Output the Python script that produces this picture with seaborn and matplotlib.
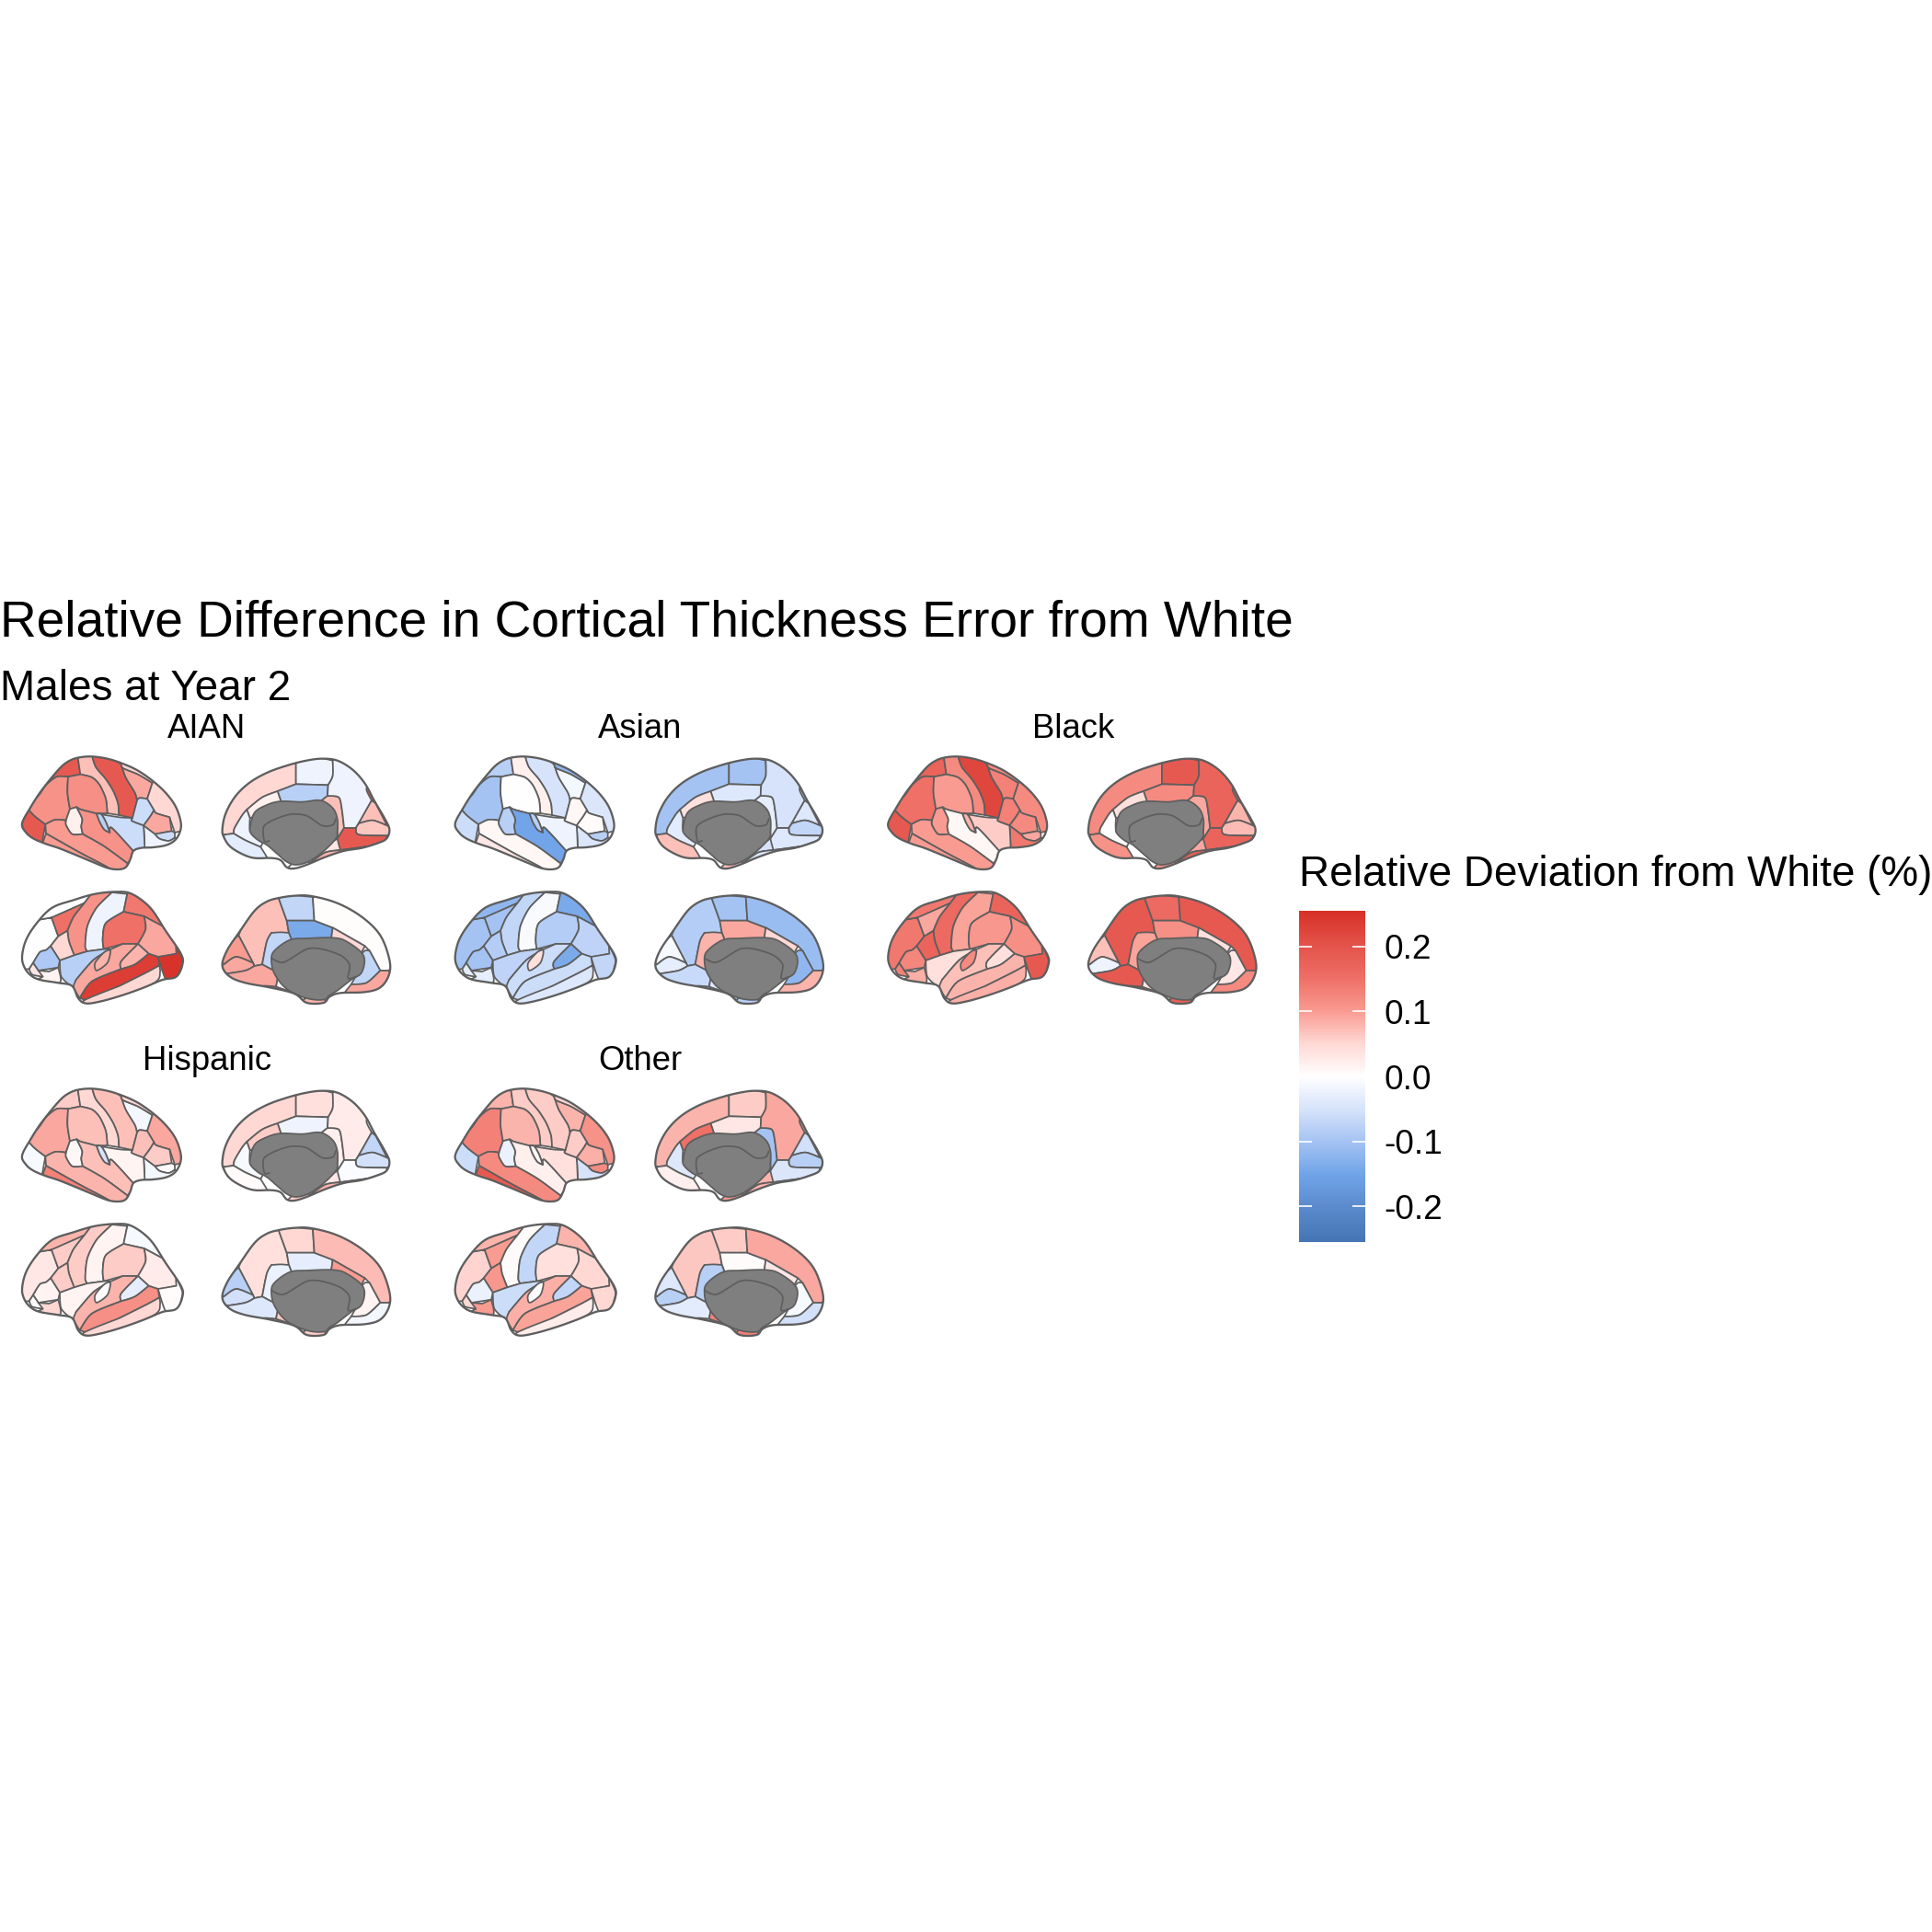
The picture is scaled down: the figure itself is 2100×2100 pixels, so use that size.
import numpy as np
import seaborn as sns
import matplotlib.pyplot as plt
from collections import defaultdict
from matplotlib.collections import PolyCollection
from matplotlib.colors import Normalize
from matplotlib.patches import Polygon

groups = ['AIAN', 'Asian', 'Black', 'Hispanic', 'Other']
tick_values = [0.2, 0.1, 0.0, -0.1, -0.2]
limit = 0.255

# atlas outlines
lat_top_outline = [(72,315),(100,262),(130,215),(165,170),(200,130),(228,110),(258,100),(300,97),(350,104),(400,120),(450,143),(500,178),(540,215),(570,255),(586,295),(590,330),(575,365),(545,385),(500,393),(460,395),(435,405),(425,432),(410,458),(385,465),(350,460),(300,440),(240,415),(190,395),(150,382),(110,365),(85,345)]
lat_top = {
    'lateraloccipital': [(72,315),(100,262),(112,290),(148,318),(150,382),(110,365),(85,345)],
    'superiorparietal': [(100,262),(130,215),(165,170),(200,130),(258,100),(262,155),(222,163),(185,163),(150,190),(125,225)],
    'inferiorparietal': [(100,262),(125,225),(150,190),(185,163),(222,163),(220,215),(228,268),(215,305),(180,303),(148,318),(112,290)],
    'postcentral': [(258,100),(300,97),(312,130),(345,170),(370,210),(385,250),(388,288),(350,282),(345,235),(325,190),(300,165),(262,155)],
    'supramarginal': [(222,163),(262,155),(300,165),(325,190),(345,235),(350,282),(315,283),(265,270),(250,262),(228,268),(220,215)],
    'precentral': [(300,97),(350,104),(395,122),(410,165),(440,215),(447,240),(432,297),(388,288),(385,250),(370,210),(345,170),(312,130)],
    'caudalmiddlefrontal': [(395,122),(402,135),(450,155),(497,183),(480,235),(455,232),(447,240),(440,215),(410,165)],
    'superiorfrontal': [(385,112),(450,143),(500,178),(497,183),(450,155),(402,135),(395,122)],
    'rostralmiddlefrontal': [(497,183),(500,178),(540,215),(570,255),(586,295),(590,330),(570,345),(553,295),(510,282),(502,272),(480,235)],
    'parsopercularis': [(447,240),(455,232),(480,235),(502,272),(490,292),(468,322),(430,307),(432,297)],
    'parstriangularis': [(502,272),(510,282),(553,295),(560,340),(505,350),(468,322),(490,292)],
    'parsorbitalis': [(505,350),(560,340),(570,345),(570,362),(550,372),(520,365)],
    'lateralorbitofrontal': [(468,322),(505,350),(520,365),(550,372),(570,362),(575,365),(545,385),(500,393),(460,395),(470,350)],
    'temporalpole': [(315,283),(390,295),(432,297),(430,307),(468,322),(470,350),(460,395),(435,405),(365,330),(358,345),(345,310),(330,285)],
    'bankssts': [(228,268),(250,262),(268,300),(265,325),(270,350),(235,350),(215,320),(215,305)],
    'superiortemporal': [(250,262),(265,270),(315,283),(325,310),(340,335),(358,345),(365,330),(435,405),(415,445),(340,390),(270,350),(265,325),(268,300)],
    'insula': [(315,283),(330,285),(345,310),(358,345),(340,335),(325,310)],
    'middletemporal': [(148,318),(180,303),(215,305),(215,320),(235,350),(270,350),(340,390),(415,445),(410,458),(385,465),(340,452),(260,410),(150,348)],
    'inferiortemporal': [(150,348),(260,410),(340,452),(385,465),(350,460),(300,440),(240,415),(190,395),(150,382)],
}
med_top_outline = [(725,335),(735,285),(765,230),(810,185),(870,150),(940,125),(1000,110),(1050,104),(1100,110),(1150,140),(1190,185),(1220,240),(1255,300),(1270,335),(1260,365),(1230,380),(1180,395),(1120,405),(1060,425),(1000,450),(960,462),(935,458),(915,435),(885,428),(830,428),(790,415),(750,390),(730,360)]
med_top = {
    'superiorfrontal': [(725,335),(735,285),(765,230),(810,185),(870,150),(965,118),(965,187),(905,210),(855,230),(805,270),(790,288),(765,330),(762,348),(730,352)],
    'paracentral': [(965,118),(1000,110),(1085,110),(1085,160),(1070,190),(965,187)],
    'posteriorcingulate': [(905,210),(965,187),(1070,190),(1068,225),(1045,240),(985,245),(915,243)],
    'isthmuscingulate': [(1045,240),(1068,225),(1105,230),(1115,270),(1122,330),(1100,365),(1100,330),(1095,290),(1060,255)],
    'caudalanteriorcingulate': [(805,270),(855,230),(905,210),(915,243),(870,255),(830,280),(815,298)],
    'rostralanteriorcingulate': [(762,348),(765,330),(790,288),(805,270),(815,298),(815,335),(820,350),(845,372),(850,392),(800,370)],
    'medialorbitofrontal': [(730,352),(762,348),(800,370),(850,392),(885,428),(830,428),(790,415),(750,390)],
    'precuneus': [(1085,110),(1100,110),(1150,140),(1190,185),(1212,240),(1178,300),(1160,330),(1122,330),(1115,270),(1105,230),(1068,225),(1070,190),(1085,160)],
    'superiorparietal': [(1190,185),(1225,250),(1212,240),(1195,205)],
    'cuneus': [(1178,300),(1212,240),(1225,250),(1262,322),(1215,305),(1170,315)],
    'pericalcarine': [(1160,330),(1170,315),(1215,305),(1262,322),(1270,335),(1262,355),(1170,352)],
    'lingual': [(1122,330),(1160,330),(1170,352),(1262,355),(1255,370),(1200,390),(1110,402),(1095,385),(1100,365)],
    'parahippocampal': [(1100,365),(1105,385),(1110,402),(1060,410),(1010,445),(1005,440),(1050,410)],
    'fusiform': [(1010,445),(1060,410),(1110,402),(1200,390),(1120,405),(1060,425),(1000,450)],
    'entorhinal': [(935,458),(965,450),(1005,440),(1010,445),(1000,450),(960,462)],
}
med_top_wall = [(815,330),(830,280),(870,255),(915,243),(985,245),(1045,240),(1085,265),(1100,300),(1100,340),(1095,365),(1050,410),(1005,440),(965,450),(935,440),(905,415),(870,385),(845,372),(820,350)]
med_top_line = [(878,372),(862,372),(860,325),(900,300),(950,285),(1000,290),(1050,322),(1085,320),(1095,300)]

lat_bot_outline = [(72,750),(85,695),(120,640),(170,590),(240,565),(310,545),(380,538),(430,545),(490,590),(540,665),(590,740),(595,775),(575,815),(530,825),(470,850),(400,875),(330,895),(280,902),(255,885),(235,845),(190,835),(130,825),(100,810),(80,785)]
lat_bot = {
    'rostralmiddlefrontal': [(72,750),(85,695),(120,640),(168,622),(190,683),(165,715),(150,728),(130,735),(108,770),(95,790),(80,785)],
    'superiorfrontal': [(120,640),(170,590),(240,565),(310,545),(275,575),(170,622),(168,622)],
    'caudalmiddlefrontal': [(168,622),(275,575),(240,620),(220,665),(190,683)],
    'precentral': [(275,575),(310,545),(365,540),(315,590),(285,650),(278,715),(285,732),(242,745),(225,700),(220,665),(240,620)],
    'postcentral': [(365,540),(415,545),(403,603),(345,640),(335,690),(338,725),(285,732),(278,715),(285,650),(315,590)],
    'superiorparietal': [(415,545),(430,545),(490,590),(530,650),(470,618),(403,603)],
    'supramarginal': [(345,640),(403,603),(470,618),(475,660),(450,708),(400,708),(338,725),(335,690)],
    'inferiorparietal': [(470,618),(530,650),(580,720),(575,740),(520,750),(485,740),(450,708),(475,660)],
    'lateraloccipital': [(575,715),(595,760),(590,790),(575,815),(530,825),(515,750),(575,740)],
    'parsopercularis': [(165,715),(190,683),(220,665),(225,700),(242,745),(195,762)],
    'parstriangularis': [(108,770),(130,735),(150,728),(165,715),(195,762),(190,785),(125,795)],
    'parsorbitalis': [(95,790),(108,770),(125,795),(160,798),(140,815),(105,808)],
    'lateralorbitofrontal': [(125,795),(160,798),(190,785),(195,835),(130,825),(140,815)],
    'temporalpole': [(195,762),(242,745),(285,732),(338,725),(362,725),(305,760),(248,825),(238,848),(200,815)],
    'superiortemporal': [(362,725),(400,708),(450,708),(395,765),(395,790),(300,830),(260,885),(240,850),(248,825),(305,760)],
    'insula': [(310,770),(340,735),(360,730),(350,770),(315,795)],
    'bankssts': [(395,765),(450,708),(485,740),(440,775),(395,790)],
    'middletemporal': [(260,885),(300,830),(395,790),(440,775),(485,740),(515,750),(520,778),(480,800),(390,845),(300,890)],
    'inferiortemporal': [(270,895),(390,845),(480,800),(520,778),(522,800),(510,830),(400,875),(330,895)],
}
med_bot_outline = [(725,780),(740,730),(780,670),(830,600),(870,570),(910,558),(960,551),(1015,552),(1100,575),(1180,620),(1240,680),(1270,760),(1268,810),(1240,850),(1190,865),(1110,868),(1075,880),(1055,900),(1000,900),(960,870),(880,850),(800,835),(750,815)]
med_bot = {
    'precuneus': [(778,680),(830,600),(870,570),(910,558),(935,632),(942,672),(885,672),(870,700),(855,775),(830,780),(825,770)],
    'paracentral': [(910,558),(1020,555),(1025,632),(935,632)],
    'posteriorcingulate': [(935,632),(1025,632),(1085,655),(1085,688),(1000,690),(945,695),(942,672)],
    'isthmuscingulate': [(885,672),(915,670),(942,672),(945,695),(895,730),(885,760),(895,805),(855,775),(870,700)],
    'superiorfrontal': [(1020,555),(1100,575),(1180,620),(1240,680),(1270,760),(1268,795),(1240,795),(1205,730),(1190,715),(1085,655),(1025,632)],
    'caudalanteriorcingulate': [(1085,655),(1190,715),(1185,745),(1130,700),(1085,688)],
    'rostralanteriorcingulate': [(1190,730),(1205,730),(1240,795),(1195,835),(1145,840),(1180,800),(1185,745)],
    'medialorbitofrontal': [(1240,795),(1268,795),(1268,810),(1240,850),(1190,865),(1110,868),(1145,840),(1195,835)],
    'cuneus': [(725,770),(740,730),(778,680),(825,770),(770,750),(730,775)],
    'pericalcarine': [(725,780),(730,775),(770,750),(825,770),(830,780),(800,795),(740,805)],
    'lingual': [(740,805),(800,795),(830,780),(855,775),(895,805),(900,848),(800,835),(750,815)],
    'parahippocampal': [(895,805),(935,855),(1000,885),(990,892),(955,868),(900,848)],
    'fusiform': [(860,845),(900,848),(955,868),(990,892),(960,870),(880,850)],
    'entorhinal': [(990,892),(1000,885),(1055,890),(1055,900),(1000,900)],
}
med_bot_wall = [(885,760),(895,730),(945,695),(1000,690),(1085,688),(1130,700),(1185,745),(1180,800),(1145,825),(1100,860),(1075,875),(1055,890),(1000,885),(935,855),(895,805)]
med_bot_line = [(885,755),(925,768),(1000,725),(1050,725),(1110,745),(1140,775),(1135,820),(1160,815)]

# values per view, same order as the regions above
aian_lat_top = [.19,.19,.11,.07,.115,.19,.09,.05,.05,-.06,.09,-.06,-.02,-.06,.02,.11,-.08,.10,.10]
aian_med_top = [.05,-.02,-.08,.07,.02,-.02,-.035,-.02,.19,.07,.065,.19,.03,.08,.005]
aian_lat_bot = [0,0,.15,.11,-.02,.14,.15,.09,.25,.05,-.09,.03,.015,-.08,.09,.08,.08,.235,.05]
aian_med_bot = [.07,-.07,-.14,-.07,.003,.05,-.07,.09,.10,.09,.09,0,.19,.08]

asian_lat_top = [-.06,-.08,-.10,.02,0,-.05,-.015,-.12,-.045,.01,.005,-.08,-.045,-.02,-.08,-.15,-.08,.01,.03]
asian_med_top = [-.10,-.10,-.04,-.03,.04,-.035,.07,-.05,-.10,-.04,-.07,-.04,-.05,-.04,.07]
asian_lat_bot = [-.10,-.12,-.10,-.07,-.008,-.14,-.085,-.075,-.07,-.085,-.10,-.035,-.03,-.075,-.06,.04,-.14,-.06,-.04]
asian_med_bot = [-.085,-.10,.09,.08,-.11,.05,-.12,.08,-.01,-.03,-.065,-.04,-.09,-.08]

black_lat_top = [.19,.17,.15,.12,.10,.22,.13,.12,.12,.13,.12,.09,.14,.06,.10,.01,.08,.10,.10]
black_med_top = [.12,.19,.12,.09,.04,0,.11,.17,.17,.08,.075,.17,.09,.18,.11]
black_lat_bot = [.14,.14,.09,.16,.095,.17,.105,.115,.19,.17,.125,.13,.085,.04,.07,.12,.04,.08,.085]
black_med_bot = [.19,.16,.115,.095,.19,.04,.03,.12,.07,-.02,.19,.03,.18,.18]

hispanic_lat_top = [-.01,.06,.09,.05,.07,.07,-.015,.05,.09,.07,.06,.005,-.015,.015,.01,.07,-.05,.08,.13]
hispanic_med_top = [.05,.04,-.02,.02,.06,-.01,.005,.025,.02,-.07,-.055,-.005,.03,.08,.06]
hispanic_lat_bot = [.03,.08,.06,.06,.015,-.01,.06,.025,.005,.06,.015,.005,.05,.015,.08,0,-.03,.115,.05]
hispanic_med_bot = [.04,.05,-.03,-.025,.075,.10,.015,-.015,-.08,-.055,-.04,.06,.08,.06]

other_lat_top = [-.06,.08,.13,.06,.08,.06,.08,.05,.11,.06,.085,.12,-.05,.04,-.025,.02,.01,.12,.19]
other_med_top = [.08,.06,.03,-.10,.15,-.04,.02,.09,.09,-.055,-.08,-.045,.08,.08,.10]
other_lat_bot = [.055,.08,.10,.005,-.07,.08,.04,.05,.05,.105,-.025,.05,.10,-.06,.085,0,-.07,.095,.025]
other_med_bot = [.065,.06,.005,-.08,.09,.03,-.01,-.055,-.04,-.08,-.035,.13,.02,.13]

group_values = {
    'AIAN': [aian_lat_top, aian_med_top, aian_lat_bot, aian_med_bot],
    'Asian': [asian_lat_top, asian_med_top, asian_lat_bot, asian_med_bot],
    'Black': [black_lat_top, black_med_top, black_lat_bot, black_med_bot],
    'Hispanic': [hispanic_lat_top, hispanic_med_top, hispanic_lat_bot, hispanic_med_bot],
    'Other': [other_lat_top, other_med_top, other_lat_bot, other_med_bot],
}
atlas = [
    (lat_top, lat_top_outline, None, None),
    (med_top, med_top_outline, med_top_wall, med_top_line),
    (lat_bot, lat_bot_outline, None, None),
    (med_bot, med_bot_outline, med_bot_wall, med_bot_line),
]
# panel origin in pixels of the 2100 square figure
panel_origin = {'AIAN': (0, 790), 'Asian': (470.7, 790), 'Black': (941.3, 790),
                'Hispanic': (0, 1151), 'Other': (470.7, 1151)}

sns.set_theme(style='white')
plt.rcParams['font.family'] = ['Liberation Sans', 'DejaVu Sans']
plt.rcParams['text.color'] = 'black'
LINE = '#5e5e5e'
WALL = '#7f7f7f'
SIZE = 2100

cmap = sns.blend_palette(['#4575b4', '#5a8acb', '#6fa3e8', '#a3c2f3', '#d6e3fb', '#ffffff',
                          '#ffd8d4', '#f99a90', '#ee6e65', '#e3524a', '#d73027'], n_colors=256, as_cmap=True)
norm = Normalize(-limit, limit)


def px_axes(fig, x, y, w, h):
    return fig.add_axes([x / SIZE, 1 - (y + h) / SIZE, w / SIZE, h / SIZE])


def spline(points, corners=(), closed=True, tension=0.4, steps=6):
    # catmull-rom through the traced points, corners stay sharp
    out = []
    n = len(points)
    for i in range(n if closed else n - 1):
        p1, p2 = points[i], points[(i + 1) % n]
        p0 = points[(i - 1) % n] if closed or i > 0 else p1
        p3 = points[(i + 2) % n] if closed or i + 2 < n else p2
        if p1 in corners:
            p0 = p1
        if p2 in corners:
            p3 = p2
        a, b, c, d = map(np.array, (p0, p1, p2, p3))
        m1, m2 = tension * (c - a), tension * (d - b)
        for t in np.linspace(0, 1, steps, endpoint=False):
            h = t * t * (2 * t - 3) + 1
            out.append(h * b + (1 - h) * c + (t ** 3 - 2 * t ** 2 + t) * m1 + (t ** 3 - t ** 2) * m2)
    if not closed:
        out.append(np.array(points[-1], dtype=float))
    return np.array(out)


def prepare(regions, outline, wall):
    # push shared vertices under the silhouette and the medial wall, then smooth the borders
    moved = {}
    center = np.mean(outline, axis=0)
    for p in outline:
        v = np.array(p) - center
        moved[p] = tuple(np.array(p) + 16 * v / np.linalg.norm(v))
    if wall is not None:
        wall_center = np.mean(wall, axis=0)
        for p in wall:
            v = wall_center - np.array(p)
            moved[p] = tuple(np.array(p) + 14 * v / np.linalg.norm(v))
    polys = [[moved.get(p, p) for p in pts] for pts in regions.values()]
    neighbours = defaultdict(set)
    for pts in polys:
        for i, p in enumerate(pts):
            neighbours[p].update([pts[i - 1], pts[(i + 1) % len(pts)]])
    corners = {p for p, near in neighbours.items() if len(near) > 2}
    return [spline(pts, corners) for pts in polys]


prepared = [(prepare(r, o, w), spline(o, tension=0.5), None if w is None else spline(w, tension=0.5),
             None if l is None else spline(l, closed=False)) for r, o, w, l in atlas]


def draw_panel(ax, values_by_view):
    for (polys, outline, wall, line), values in zip(prepared, values_by_view):
        shape = Polygon(outline, closed=True, facecolor='white', edgecolor='none')
        ax.add_patch(shape)
        coll = PolyCollection(polys, array=np.array(values), cmap=cmap, norm=norm,
                              edgecolors=LINE, linewidths=0.42, joinstyle='round')
        ax.add_collection(coll)
        coll.set_clip_path(shape)
        if wall is not None:
            ax.fill(wall[:, 0], wall[:, 1], facecolor=WALL, edgecolor=LINE, linewidth=0.42)
            ax.plot(line[:, 0], line[:, 1], color=LINE, lw=0.42)
        ax.add_patch(Polygon(outline, closed=True, facecolor='none', edgecolor=LINE, linewidth=0.55))


fig = plt.figure(figsize=(7, 7), dpi=300)
for group in groups:
    x0, y0 = panel_origin[group]
    ax = px_axes(fig, x0, y0, 450, 320)
    ax.set_xlim(0, 1350)
    ax.set_ylim(960, 0)
    ax.axis('off')
    draw_panel(ax, group_values[group])
    ax.text(675, 8, group, ha='center', va='center', fontsize=8.75, clip_on=False)

fig.text(0, 1 - 678 / SIZE, 'Relative Difference in Cortical Thickness Error from White', fontsize=13.2, va='center', ha='left')
fig.text(0, 1 - 749 / SIZE, 'Males at Year 2', fontsize=11, va='center', ha='left')

# legend
cax = px_axes(fig, 1412, 990, 72, 360)
gradient = np.linspace(limit, -limit, 256).reshape(-1, 1)
sns.heatmap(gradient, ax=cax, cmap=cmap, vmin=-limit, vmax=limit, cbar=False, xticklabels=False, yticklabels=False)
tick_pos = [(limit - v) / (2 * limit) * 256 for v in tick_values]
cax.hlines(tick_pos, 0, 0.2, color='white', lw=0.4, transform=cax.get_yaxis_transform())
cax.hlines(tick_pos, 0.8, 1, color='white', lw=0.4, transform=cax.get_yaxis_transform())
cax.yaxis.tick_right()
cax.set_yticks(tick_pos)
cax.set_yticklabels([f'{v:.1f}' for v in tick_values], rotation=0, fontsize=8.9, color='black')
cax.tick_params(axis='y', length=0, pad=5)
fig.text(1412 / SIZE, 1 - 951 / SIZE, 'Relative Deviation from White (%)', fontsize=11, va='center', ha='left')

fig.savefig('out.png', dpi=300)
